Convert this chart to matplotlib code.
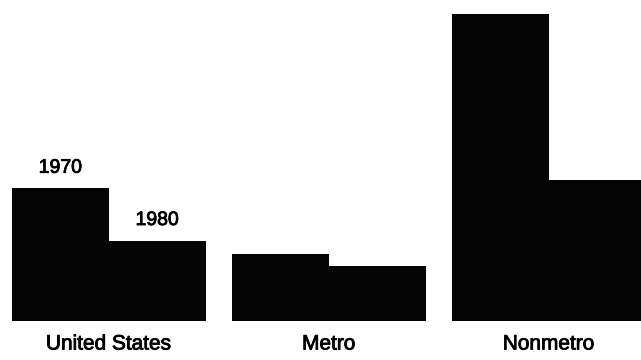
import matplotlib
matplotlib.use("Agg")
import matplotlib.pyplot as plt
import matplotlib.patheffects as pe
import numpy as np

# Data
groups = ["United States", "Metro", "Nonmetro"]
years = ["1970", "1980"]
values_1970 = [13.3, 6.7, 30.7]
values_1980 = [8.0, 5.5, 14.1]

plt.rcParams["font.family"] = ["Liberation Sans", "DejaVu Sans"]

fig = plt.figure(figsize=(6.41, 3.60), dpi=100)
ax = fig.add_axes([0, 0, 1, 1])

bar_w = 1.0
pitch = 2.273
lefts = np.arange(len(groups)) * pitch

ax.bar(lefts, values_1970, width=bar_w, align="edge", color="#050505", linewidth=0)
ax.bar(lefts + bar_w, values_1980, width=bar_w, align="edge", color="#050505", linewidth=0)

# slightly heavier text strokes
heavy = [pe.withStroke(linewidth=0.6, foreground="black")]

# Year labels over the first group's bars
ax.annotate(years[0], xy=(lefts[0] + bar_w / 2, values_1970[0]), xytext=(0, 11),
            textcoords="offset points", ha="center", va="baseline", fontsize=14,
            path_effects=heavy)
ax.annotate(years[1], xy=(lefts[0] + 1.5 * bar_w, values_1980[0]), xytext=(0, 11.5),
            textcoords="offset points", ha="center", va="baseline", fontsize=14,
            path_effects=heavy)

# Group labels under each pair
for x, name in zip(lefts + bar_w, groups):
    ax.text(x, -2.3, name, ha="center", va="center", fontsize=15, path_effects=heavy)

ax.set_xlim(-0.124, 6.498)
ax.set_ylim(-3.9, 32.1)
ax.axis("off")

fig.savefig("out.png", dpi=100, facecolor="white")
